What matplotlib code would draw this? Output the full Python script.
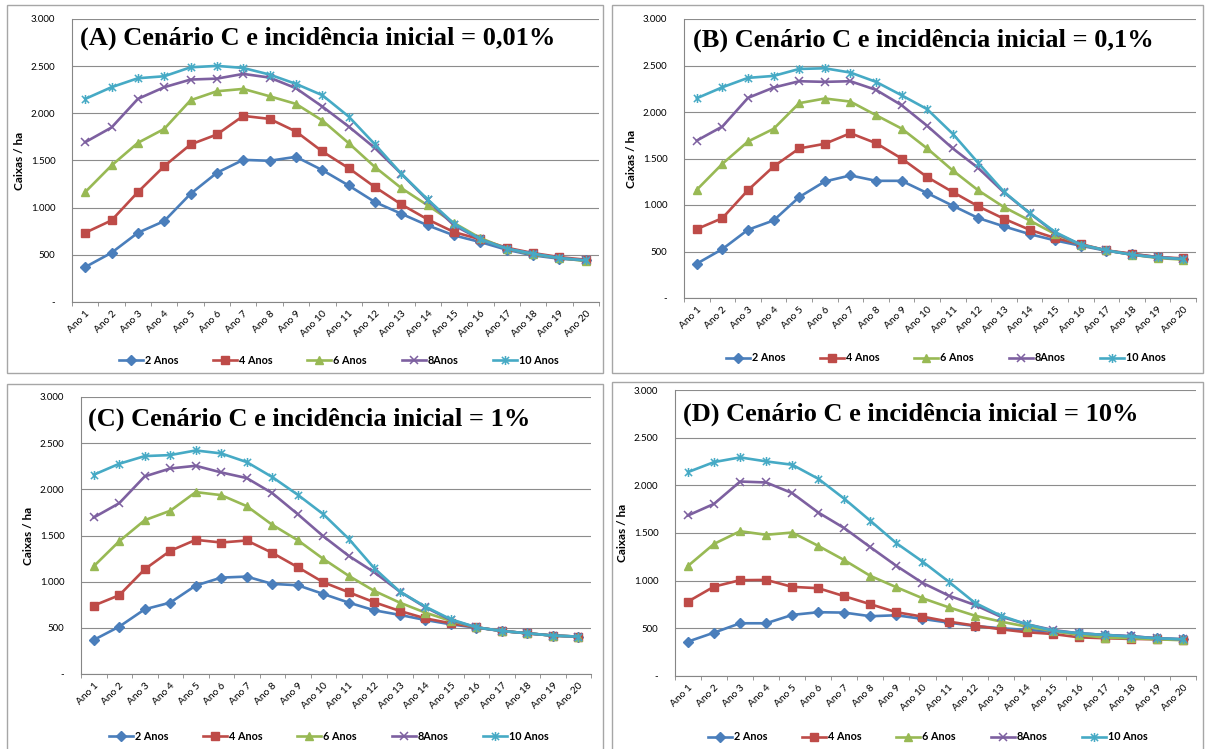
import matplotlib
matplotlib.use("Agg")
import matplotlib.pyplot as plt
from matplotlib.patches import Rectangle
from matplotlib.path import Path

# Categories and series
anos = ["Ano %d" % i for i in range(1, 21)]
series_names = ["2 Anos", "4 Anos", "6 Anos", "8Anos", "10 Anos"]

# (A) incidencia inicial 0,01%
a_2 = [370, 522, 734, 858, 1147, 1370, 1507, 1497, 1539, 1398, 1235, 1059, 935, 812, 706, 635, 554, 494, 459, 441]
a_4 = [734, 865, 1165, 1440, 1670, 1776, 1973, 1941, 1807, 1596, 1419, 1218, 1034, 875, 741, 664, 575, 519, 476, 448]
a_6 = [1165, 1447, 1687, 1835, 2139, 2234, 2259, 2181, 2100, 1924, 1684, 1430, 1207, 1024, 837, 678, 565, 505, 466, 434]
a_8 = [1694, 1850, 2153, 2277, 2358, 2368, 2418, 2379, 2266, 2072, 1860, 1631, 1359, 1077, 812, 664, 565, 512, 466, 441]
a_10 = [2153, 2277, 2372, 2393, 2488, 2503, 2481, 2411, 2312, 2192, 1966, 1670, 1359, 1087, 830, 664, 565, 512, 466, 441]

# (B) incidencia inicial 0,1%
b_2 = [369, 526, 734, 834, 1085, 1253, 1318, 1260, 1260, 1128, 992, 859, 770, 687, 619, 562, 508, 473, 440, 419]
b_4 = [741, 859, 1160, 1414, 1608, 1658, 1772, 1665, 1500, 1300, 1139, 985, 852, 734, 644, 580, 512, 476, 440, 426]
b_6 = [1164, 1443, 1683, 1819, 2095, 2145, 2112, 1966, 1822, 1608, 1371, 1156, 977, 834, 687, 573, 512, 465, 430, 412]
b_8 = [1693, 1844, 2152, 2263, 2331, 2324, 2331, 2238, 2073, 1851, 1608, 1396, 1135, 913, 698, 573, 512, 465, 437, 419]
b_10 = [2148, 2266, 2367, 2388, 2463, 2470, 2424, 2324, 2180, 2030, 1765, 1450, 1142, 913, 709, 573, 512, 465, 437, 419]

# (C) incidencia inicial 1%
c_2 = [369, 513, 701, 773, 958, 1044, 1055, 976, 961, 867, 773, 690, 640, 585, 538, 502, 466, 441, 416, 405]
c_4 = [741, 853, 1135, 1334, 1453, 1424, 1446, 1312, 1157, 994, 885, 777, 683, 603, 549, 506, 466, 441, 416, 405]
c_6 = [1167, 1438, 1666, 1768, 1970, 1937, 1818, 1616, 1449, 1247, 1063, 900, 773, 665, 575, 506, 466, 441, 416, 405]
c_8 = [1695, 1850, 2140, 2226, 2255, 2183, 2122, 1959, 1731, 1492, 1279, 1102, 893, 723, 585, 506, 466, 441, 416, 405]
c_10 = [2158, 2277, 2360, 2371, 2421, 2389, 2295, 2133, 1941, 1731, 1464, 1146, 893, 730, 593, 506, 466, 441, 416, 405]

# (D) incidencia inicial 10%
d_2 = [361, 455, 553, 553, 641, 669, 665, 627, 637, 599, 560, 525, 501, 483, 466, 448, 431, 417, 396, 385]
d_4 = [781, 938, 1005, 1008, 935, 921, 837, 753, 669, 623, 571, 529, 490, 459, 441, 406, 396, 389, 385, 382]
d_6 = [1155, 1386, 1519, 1481, 1505, 1365, 1215, 1050, 931, 816, 721, 634, 571, 518, 473, 431, 403, 396, 385, 375]
d_8 = [1684, 1806, 2040, 2030, 1918, 1715, 1551, 1351, 1155, 977, 844, 746, 623, 543, 483, 448, 431, 417, 396, 385]
d_10 = [2139, 2244, 2293, 2251, 2216, 2069, 1859, 1628, 1393, 1201, 991, 770, 634, 543, 476, 448, 431, 413, 396, 385]

titles = [
    "(A) Cenário C e incidência inicial = 0,01%",
    "(B) Cenário C e incidência inicial = 0,1%",
    "(C) Cenário C e incidência inicial = 1%",
    "(D) Cenário C e incidência inicial = 10%",
]
yticks = [0, 500, 1000, 1500, 2000, 2500, 3000]
ytick_labels = ["-", "500", "1.000", "1.500", "2.000", "2.500", "3.000"]

colors = ["#4A7EBB", "#BE4B48", "#98B954", "#7D60A0", "#46AAC5"]

# asterisk marker (x with a vertical bar)
star = Path([(-1, -1), (1, 1), (-1, 1), (1, -1), (0, -1.25), (0, 1.25)],
            [Path.MOVETO, Path.LINETO, Path.MOVETO, Path.LINETO, Path.MOVETO, Path.LINETO])
markers = ["D", "s", "^", "x", star]
msizes = [5, 5.5, 6, 5.5, 6.5]

W, H = 1206, 749
fig = plt.figure(figsize=(W / 100, H / 100), dpi=100)
fig.patch.set_facecolor("white")

# pixel layout: axes box, frame box, title anchor, legend centre
layout = [
    dict(ax=(72, 19, 599, 302), frame=(7, 5, 603, 373), title=(80, 38), leg=(339, 360)),
    dict(ax=(684, 19, 1196, 298), frame=(612, 5, 1203, 373), title=(693, 40), leg=(946, 358)),
    dict(ax=(81, 397, 591, 674), frame=(7, 384, 603, 760), title=(88, 419), leg=(329, 736)),
    dict(ax=(675, 390, 1196, 676), frame=(612, 382, 1203, 760), title=(683, 414), leg=(928, 737)),
]
panels = [
    [a_2, a_4, a_6, a_8, a_10],
    [b_2, b_4, b_6, b_8, b_10],
    [c_2, c_4, c_6, c_8, c_10],
    [d_2, d_4, d_6, d_8, d_10],
]

tick_font = "Lato"
x = list(range(len(anos)))

for data, lay, title in zip(panels, layout, titles):
    fl, ft, fr, fb = lay["frame"]
    fig.add_artist(Rectangle((fl / W, 1 - fb / H), (fr - fl) / W, (fb - ft) / H,
                             transform=fig.transFigure, fill=False,
                             ec="#a6a6a6", lw=1.0))
    l, t, r, b = lay["ax"]
    ax = fig.add_axes([l / W, 1 - b / H, (r - l) / W, (b - t) / H])

    for vals, name, c, m, ms in zip(data, series_names, colors, markers, msizes):
        if m == "x" or m is star:
            ax.plot(x, vals, color=c, lw=1.9, marker=m, ms=ms, mew=1.1,
                    mfc="none", mec=c, label=name)
        else:
            ax.plot(x, vals, color=c, lw=1.9, marker=m, ms=ms, mfc=c, mec=c,
                    label=name)

    ax.set_xlim(-0.5, len(anos) - 0.5)
    ax.set_ylim(0, 3000)
    ax.set_yticks(yticks)
    ax.set_yticklabels(ytick_labels, fontfamily=tick_font, fontsize=7)
    ax.tick_params(axis="y", length=0, pad=12)
    ax.set_xticks(x)
    ax.set_xticklabels(anos, rotation=45, ha="right", va="top",
                       rotation_mode="anchor", fontfamily=tick_font, fontsize=7.3)
    ax.set_xticks([i - 0.5 for i in range(len(anos) + 1)], minor=True)
    ax.tick_params(axis="x", which="major", length=0, pad=5)
    ax.tick_params(axis="x", which="minor", length=3, color="#868686", direction="out")

    ax.grid(axis="y", color="#8c8c8c", lw=0.8)
    ax.set_axisbelow(True)
    for side in ("top", "right"):
        ax.spines[side].set_visible(False)
    for side in ("left", "bottom"):
        ax.spines[side].set_color("#868686")
        ax.spines[side].set_linewidth(0.8)

    ax.set_ylabel("Caixas / ha", fontfamily=tick_font, fontweight="bold",
                  fontsize=8.5, labelpad=4)

    tx, ty = lay["title"]
    fig.text(tx / W, 1 - ty / H, title, ha="left", va="center",
             fontfamily="Liberation Serif", fontweight="bold", fontsize=19)

    lx, lyy = lay["leg"]
    ax.legend(loc="center", bbox_to_anchor=(lx / W, 1 - lyy / H),
              bbox_transform=fig.transFigure, ncol=5, frameon=False,
              handlelength=2.2, handletextpad=0.2, columnspacing=3.2,
              prop=dict(family=tick_font, weight="bold", size=7.8))

fig.savefig("out.png", dpi=100)
